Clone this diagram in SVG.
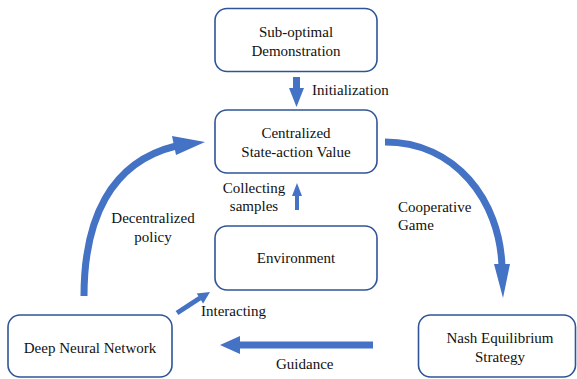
<svg xmlns="http://www.w3.org/2000/svg" width="577" height="379" viewBox="0 0 577 379" font-family="Times New Roman, Liberation Serif, Tinos, DejaVu Serif, serif">
<style>
.box{fill:#fff;stroke:#2F5597;stroke-width:1.6}
text{font-size:15px;fill:#111}
.m{text-anchor:middle}
.arc{fill:none;stroke:#4472C4;stroke-width:7}
.ah{fill:#4472C4;stroke:none}
</style>
<rect width="577" height="379" fill="#fff"/>
<g id="n-demo"><rect class="box" x="215" y="8.5" width="162" height="63" rx="12"/>
<text class="m" x="296" y="37">Sub-optimal</text><text class="m" x="296" y="56">Demonstration</text></g>
<g id="n-central"><rect class="box" x="215" y="110" width="162" height="63" rx="12"/>
<text class="m" x="296" y="138">Centralized</text><text class="m" x="296" y="157">State-action Value</text></g>
<g id="n-env"><rect class="box" x="215" y="226" width="162" height="64" rx="12"/>
<text class="m" x="296" y="263">Environment</text></g>
<g id="n-dnn"><rect class="box" x="8" y="315" width="164" height="62" rx="12"/>
<text class="m" x="90" y="353">Deep Neural Network</text></g>
<g id="n-nash"><rect class="box" x="418.5" y="315" width="157" height="62" rx="12"/>
<text class="m" x="500" y="343">Nash Equilibrium</text><text class="m" x="500" y="362">Strategy</text></g>
<g id="connectors">
<rect class="ah" x="293" y="77" width="7" height="12"/><polygon class="ah" points="289,88 304,88 296.5,107"/>
<rect class="ah" x="295" y="194" width="4" height="16"/><polygon class="ah" points="292,196 302,196 297,183"/>
<rect class="ah" x="238" y="341.5" width="135" height="7"/><polygon class="ah" points="240,336 240,354 220,345"/>
<line x1="177" y1="313" x2="200" y2="298" stroke="#4472C4" stroke-width="5"/><polygon class="ah" points="210,292 203.1,303.5 196.7,293.5"/>
<path class="arc" d="M84,296 C84,220 110,162 176,146"/><polygon class="ah" points="205,142 172,136 176,155"/>
<path class="arc" d="M385,142 C455,142 500,200 502,267"/><polygon class="ah" points="494,264 510,264 503,298"/>
</g>
<g id="labels">
<text x="312" y="95">Initialization</text>
<text class="m" x="254" y="193">Collecting</text><text class="m" x="254" y="211">samples</text>
<text class="m" x="153" y="223">Decentralized</text><text class="m" x="153" y="242">policy</text>
<text x="398" y="212">Cooperative</text><text x="398" y="230">Game</text>
<text x="201" y="316">Interacting</text>
<text x="276" y="369">Guidance</text>
</g>
</svg>
